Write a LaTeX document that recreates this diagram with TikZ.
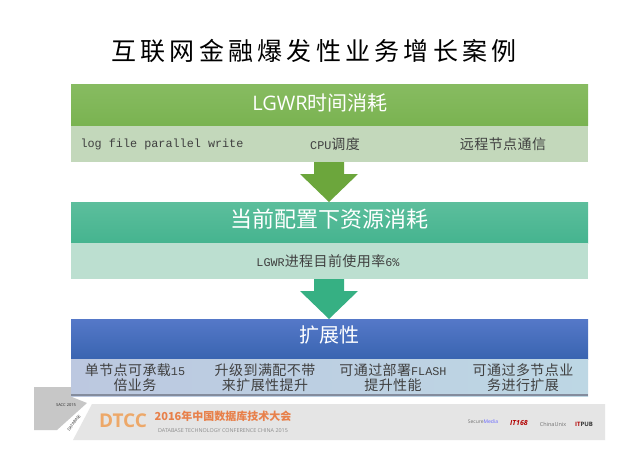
\documentclass[tikz,border=0pt]{standalone}
\usepackage{fontspec}
\setmainfont{Liberation Serif}
\newfontfamily\cjk{Noto Sans CJK SC}
\newfontfamily\lat{Open Sans}
\newfontfamily\spaced{Liberation Mono}
\newfontfamily\cjksp[LetterSpace=3]{Noto Sans CJK SC}
\newfontfamily\cjkt[LetterSpace=17]{Noto Sans CJK SC}
\usetikzlibrary{calc}
\definecolor{gA}{HTML}{7AB351}
\definecolor{gAt}{HTML}{8DBF68}
\definecolor{gB}{HTML}{C3D8BB}
\definecolor{tA}{HTML}{45B48F}
\definecolor{tAt}{HTML}{5CBE9C}
\definecolor{tB}{HTML}{BCDFD0}
\definecolor{bA}{HTML}{3F6FC4}
\definecolor{bAt}{HTML}{5578C8}
\definecolor{bL}{HTML}{BCC8E0}
\definecolor{bR}{HTML}{BDD7E4}
\definecolor{arG}{HTML}{6CA63C}
\definecolor{arT}{HTML}{36B083}
\definecolor{dt}{HTML}{EDA869}
\definecolor{dr}{HTML}{E8804A}
\newcommand{\mo}[1]{{\spaced\fontsize{11.8}{15}\selectfont #1}}
\tikzset{
  x=1pt,y=-1pt,
  hdr/.style={minimum width=517pt,minimum height=41pt,inner sep=0pt,anchor=north west,text=white},
  band/.style={minimum width=517pt,inner sep=0pt,anchor=north west},
  htext/.style={text=white,inner sep=0pt,font=\cjk\fontsize{20}{22}\selectfont},
  lbl/.style={font=\cjksp\fontsize{14}{15}\selectfont,text=black!75,align=center,inner sep=0pt}
}
\begin{document}
\begin{tikzpicture}
\useasboundingbox (0,0) rectangle (640,452);
\fill[white] (0,0) rectangle (640,452);
% banner
\fill[black!22] (34,387) -- (72,387) -- (72,397) -- (87,403) -- (57,430) -- (34,430) -- cycle;
\fill[black!10] (92,404) -- (605,404) -- (605,440) -- (73,440) -- cycle;
\node[inner sep=0pt,text=black!85,font=\lat\fontsize{4}{4}\selectfont] (bu) at (66,405) {SACC 2015};
\node[inner sep=0pt,text=black!85,font=\lat\fontsize{4}{4}\selectfont,rotate=52] (bv) at (74,423) {DATABASE};
\node[inner sep=0pt,text=dt,font=\lat\bfseries\fontsize{19}{19}\selectfont] (dtcc) at (123,421) {DTCC};
\node[inner sep=0pt,text=dr,font=\cjk\bfseries\fontsize{11}{11}\selectfont] (dtitle) at (223,416) {2016年中国数据库技术大会};
\node[inner sep=0pt,text=black!45,font=\lat\fontsize{5.4}{5.4}\selectfont] (dsub) at (223,431) {DATABASE TECHNOLOGY CONFERENCE CHINA 2015};
\node[inner sep=0pt,text=black!55,font=\lat\fontsize{5}{6}\selectfont] (l1) at (483,422) {Secure\textcolor{blue!60}{Media}};
\node[inner sep=0pt,text=red!70!black,font=\lat\bfseries\itshape\fontsize{7}{7}\selectfont] (l2) at (519,423) {IT168};
\node[inner sep=0pt,text=black!55,font=\lat\fontsize{5.5}{6}\selectfont] (l3) at (553,424) {ChinaUnix};
\node[inner sep=0pt,text=black!80,font=\lat\bfseries\fontsize{6}{6}\selectfont] (l4) at (584,424) {\textcolor{red!70!black}{IT}PUB};
% title
\node[inner sep=0pt,font=\cjkt\fontsize{25}{28}\selectfont,text=black] (title) at (314,51) {互联网金融爆发性业务增长案例};
% first block
\node[hdr,top color=gAt!70!gA,bottom color=gA] (h1) at (71,84) {};
\node[htext] (h1t) at (320,103) {{\lat LGWR}时间消耗};
\node[band,fill=gB,minimum height=36pt] (b1) at (71,126) {};
\node[lbl] (a1) at (162,144) {\mo{log file parallel write}};
\node[lbl] (a2) at (335,144) {\mo{CPU}调度};
\node[lbl] (a3) at (503,144) {远程节点通信};
% arrow 1
\fill[arG] (314,162) -- (344,162) -- (344,174) -- (358,174) -- (329,202) -- (300,174) -- (314,174) -- cycle;
% second block
\node[hdr,top color=tAt,bottom color=tA] (h2) at (71,202) {};
\node[htext,font=\cjk\fontsize{22}{24}\selectfont] (h2t) at (329,219) {当前配置下资源消耗};
\node[band,fill=tB,minimum height=36pt] (b2) at (71,243) {};
\node[lbl] (c1) at (328,261) {\mo{LGWR}进程目前使用率\mo{6\%}};
% arrow 2
\fill[arT] (314,279) -- (344,279) -- (344,291) -- (358,291) -- (329,319) -- (300,291) -- (314,291) -- cycle;
% third block
\node[hdr,top color=bAt,bottom color=bA!90!black,minimum height=40pt] (h3) at (71,319) {};
\node[htext] (h3t) at (329,335) {扩展性};
\node[band,left color=bL,right color=bR,minimum height=37pt] (b3) at (71,359) {};
\fill[black!30!bL] (71,394) rectangle (588,396);
\node[lbl] (d1) at (135,378) {单节点可承载\mo{15}\\倍业务};
\node[lbl] (d2) at (265,378) {升级到满配不带\\来扩展性提升};
\node[lbl] (d3) at (393,378) {可通过部署\mo{FLASH}\\提升性能};
\node[lbl] (d4) at (523,378) {可通过多节点业\\务进行扩展};
\end{tikzpicture}
\end{document}
